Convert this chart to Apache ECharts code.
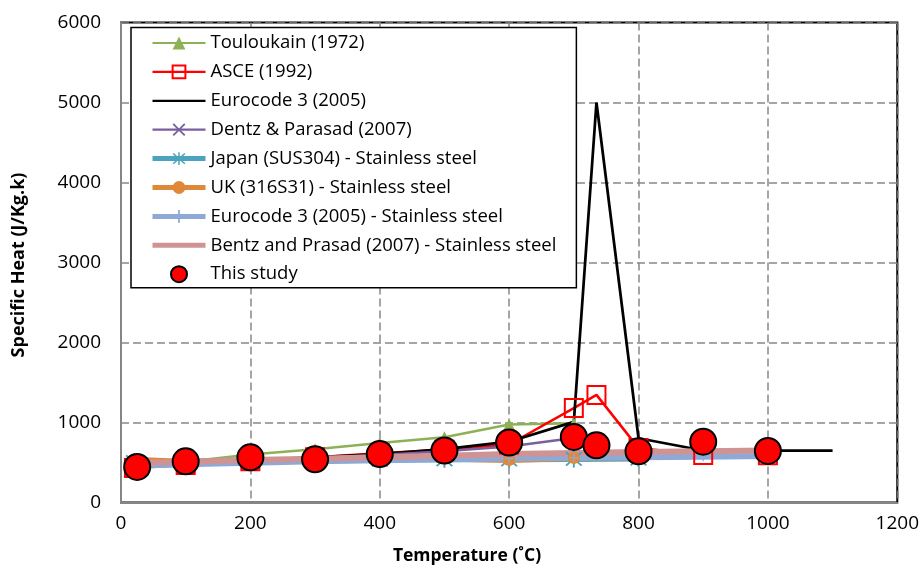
<!DOCTYPE html>
<html>
<head>
<meta charset="utf-8">
<script src="https://cdn.jsdelivr.net/npm/echarts@6/dist/echarts.min.js"></script>
<style>
  html, body { margin: 0; padding: 0; background: #fff; }
  #chart { width: 922px; height: 569px; }
</style>
</head>
<body>
<div id="chart"></div>
<script>
// Specific heat of steel vs. temperature, several models and measured points.
const FONT = '"Open Sans", "Liberation Sans", sans-serif';

const xTicks = [0, 200, 400, 600, 800, 1000, 1200];
const yTicks = [0, 1000, 2000, 3000, 4000, 5000, 6000];

const touloukainT  = [100, 200, 300, 400, 500, 600, 700];
const touloukainCp = [510, 600, 665, 745, 815, 975, 990];

const asceT  = [20, 100, 200, 300, 400, 500, 600, 700, 735, 800, 900, 1000];
const asceCp = [430, 470, 515, 565, 615, 660, 725, 1180, 1345, 680, 595, 590];

const ec3T  = [20, 100, 200, 300, 400, 500, 600, 700, 735, 800, 900, 1000, 1100];
const ec3Cp = [440, 488, 530, 565, 606, 667, 760, 1008, 5000, 803, 650, 650, 650];

const dentzT  = [20, 100, 200, 300, 400, 500, 600, 700];
const dentzCp = [440, 480, 520, 555, 595, 640, 700, 805];

const japanT  = [20, 100, 200, 300, 400, 500, 600, 700, 800];
const japanCp = [505, 510, 515, 525, 535, 540, 540, 545, 550];

const ukT  = [20, 100, 200, 300, 400, 500, 600, 700, 800];
const ukCp = [535, 505, 525, 535, 545, 550, 530, 555, 565];

const ec3ssT  = [20, 100, 200, 300, 400, 500, 600, 700, 800, 900, 1000];
const ec3ssCp = [460, 478, 498, 515, 528, 540, 550, 558, 565, 572, 580];

const bentzT  = [20, 100, 200, 300, 400, 500, 600, 700, 800, 900, 1000];
const bentzCp = [495, 510, 530, 548, 565, 585, 605, 620, 632, 642, 650];

const studyT  = [25, 100, 200, 300, 400, 500, 600, 700, 735, 800, 900, 1000];
const studyCp = [445, 515, 565, 540, 605, 650, 750, 820, 715, 640, 760, 645];

const pairs = (xs, ys) => xs.map((x, i) => [x, ys[i]]);

const SYM_X = 'path://M0,1L1,0L5,4L9,0L10,1L6,5L10,9L9,10L5,6L1,10L0,9L4,5Z';
const SYM_STAR = 'path://M9,0h2v20h-2z M1.3,2.7L2.7,1.3L18.7,17.3L17.3,18.7Z M17.3,1.3L18.7,2.7L2.7,18.7L1.3,17.3Z';
const SYM_PLUS = 'path://M4.3,0h1.4v4.3h4.3v1.4h-4.3v4.3h-1.4v-4.3h-4.3v-1.4h4.3z';

function lineSeries(name, xs, ys, color, width, symbol, size, extraItem) {
  return {
    name: name,
    type: 'line',
    z: 2,
    data: pairs(xs, ys),
    symbol: symbol,
    symbolSize: size,
    showSymbol: symbol !== 'none',
    lineStyle: { color: color, width: width },
    itemStyle: Object.assign({ color: color }, extraItem || {}),
    emphasis: { disabled: true },
    animation: false
  };
}

const series = [
  lineSeries('Touloukain (1972)', touloukainT, touloukainCp, '#8DB255', 2.5, 'triangle', 12),
  lineSeries('ASCE (1992)', asceT, asceCp, '#FF0000', 2.5, 'rect', 18,
             { color: 'rgba(255,255,255,0)', borderColor: '#FF0000', borderWidth: 2 }),
  lineSeries('Eurocode 3 (2005)', ec3T, ec3Cp, '#000000', 2.75, 'none', 0),
  lineSeries('Dentz & Parasad (2007)', dentzT, dentzCp, '#7A5F9F', 2.5, SYM_X, 11),
  lineSeries('Japan (SUS304) - Stainless steel', japanT, japanCp, '#4BA3BD', 6, SYM_STAR, 17),
  lineSeries('UK (316S31) - Stainless steel', ukT, ukCp, '#E0883A', 6, 'circle', 12),
  lineSeries('Eurocode 3 (2005) - Stainless steel', ec3ssT, ec3ssCp, '#8EA9D6', 6, SYM_PLUS, 9),
  lineSeries('Bentz and Prasad (2007) - Stainless steel', bentzT, bentzCp, '#D09393', 6, 'none', 0),
  {
    name: 'This study',
    type: 'scatter',
    z: 5,
    data: pairs(studyT, studyCp),
    symbol: 'circle',
    symbolSize: 26,
    itemStyle: { color: '#FF0000', borderColor: '#000000', borderWidth: 2, opacity: 1 },
    emphasis: { disabled: true },
    animation: false
  }
];

// Legend entries: thick lines stay thick, marker-less lines show no marker.
const legendData = series.map(s => {
  const item = { name: s.name };
  if (s.type === 'line') {
    item.lineStyle = { width: s.lineStyle.width >= 6 ? 5 : 2.2 };
    if (s.symbol === 'none') item.itemStyle = { opacity: 0 };
  } else {
    item.icon = 'circle';
  }
  return item;
});

const gridLine = { show: true, lineStyle: { color: '#888888', width: 1.5, type: [8, 4] } };
const axisLine = { show: true, onZero: false, lineStyle: { color: '#868686', width: 2 } };
const plain = v => String(v);

const chart = echarts.init(document.getElementById('chart'), null, { renderer: 'canvas' });
chart.setOption({
  backgroundColor: '#ffffff',
  animation: false,
  grid: {
    left: 121, top: 22.5, right: 21, bottom: 66.5,
    show: true, borderColor: '#000000', borderWidth: 2, backgroundColor: 'transparent'
  },
  xAxis: {
    type: 'value',
    min: xTicks[0], max: xTicks[xTicks.length - 1], interval: 200,
    axisLine: axisLine,
    axisTick: { show: false },
    splitLine: gridLine,
    axisLabel: { color: '#000', fontSize: 19, fontFamily: FONT, margin: 12, formatter: plain }
  },
  yAxis: {
    type: 'value',
    min: yTicks[0], max: yTicks[yTicks.length - 1], interval: 1000,
    axisLine: axisLine,
    axisTick: { show: false },
    splitLine: gridLine,
    axisLabel: { color: '#000', fontSize: 19, fontFamily: FONT, margin: 20, formatter: plain }
  },
  legend: {
    orient: 'vertical',
    left: 131, top: 27.5,
    padding: [6, 20, 4, 19],
    itemWidth: 53, itemHeight: 16, itemGap: 9.9,
    backgroundColor: '#ffffff',
    borderColor: '#000000', borderWidth: 1.5,
    textStyle: { color: '#000', fontSize: 18.5, lineHeight: 18, fontFamily: FONT },
    selectedMode: false,
    data: legendData
  },
  graphic: [
    {
      type: 'text', x: 467, y: 556,
      style: { text: 'Temperature (˚C)', fill: '#000', font: 'bold 17.5px ' + FONT,
               textAlign: 'center', textVerticalAlign: 'middle' }
    },
    {
      type: 'text', x: 19, y: 265, rotation: Math.PI / 2,
      style: { text: 'Specific Heat (J/Kg.k)', fill: '#000', font: 'bold 18px ' + FONT,
               textAlign: 'center', textVerticalAlign: 'middle' }
    }
  ],
  series: series
});
</script>
</body>
</html>
